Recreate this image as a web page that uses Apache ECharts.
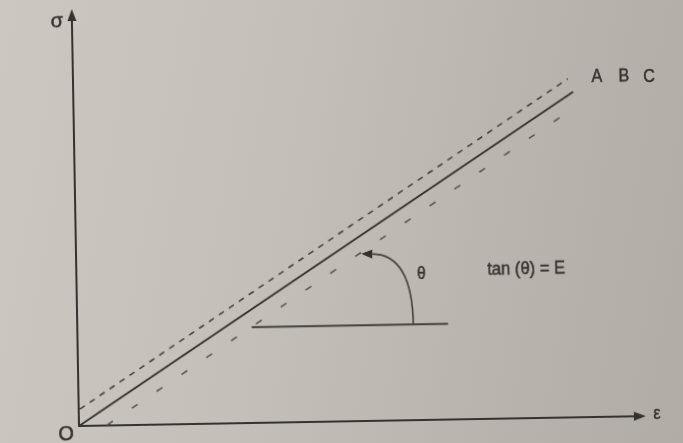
<!DOCTYPE html>
<html>
<head>
<meta charset="utf-8">
<script src="https://cdn.jsdelivr.net/npm/echarts@6/dist/echarts.min.js"></script>
<style>
  html, body { margin: 0; padding: 0; width: 683px; height: 443px; overflow: hidden; }
  body { background: linear-gradient(100deg, #ccc7c0 0%, #c4bfb8 40%, #b8b3ad 75%, #b1aca6 100%); }
  #chart { position: absolute; left: 0; top: 0; width: 683px; height: 443px;
           transform: rotate(-1deg); transform-origin: 79px 426px; }
</style>
</head>
<body>
<div id="chart"></div>
<script>
// Linear-elastic lines: strain (ε) and stress (σ) at the two ends of each line
const lineNames = ['A', 'B', 'C'];
const strainA = [0.02, 8.82];
const stressA = [0.41, 8.24];
const strainB = [0.00, 8.91];
const stressB = [0.00, 7.92];
const strainC = [0.50, 8.81];
const stressC = [0.01, 7.43];
// horizontal reference from which the slope angle θ is measured
const refStrain = [3.11, 6.61];
const refStress = [2.33, 2.33];
// curved arrow marking θ (cubic bezier: start, two controls, end)
const arcStrain = [5.99, 5.99, 5.81, 5.28];
const arcStress = [2.33, 3.31, 4.04, 4.06];

const ink = '#35322f';
const font = '"Liberation Sans Narrow","Arial Narrow","Liberation Sans",sans-serif';

const pairs = (xs, ys) => xs.map((x, i) => [x, ys[i]]);

const chart = echarts.init(document.getElementById('chart'), null, { renderer: 'canvas' });

const axisCommon = {
  type: 'value', min: 0, max: 10,
  splitLine: { show: false }, axisTick: { show: false }, axisLabel: { show: false },
  axisLine: { show: true, onZero: false, symbol: ['none', 'triangle'], symbolSize: [9, 12],
              lineStyle: { color: ink, width: 2 } }
};

chart.setOption({
  animation: false,
  backgroundColor: 'transparent',
  grid: { left: 79, top: 15, right: 43, bottom: 17 },
  xAxis: axisCommon,
  yAxis: axisCommon,
  series: [
    { name: lineNames[0], type: 'line', symbol: 'none', data: pairs(strainA, stressA),
      lineStyle: { color: '#46433f', width: 1.6, type: [6, 6] } },
    { name: lineNames[1], type: 'line', symbol: 'none', data: pairs(strainB, stressB),
      lineStyle: { color: ink, width: 2 } },
    { name: lineNames[2], type: 'line', symbol: 'none', data: pairs(strainC, stressC),
      lineStyle: { color: '#5a5652', width: 1.6, type: [7, 23] } },
    { name: 'ref', type: 'line', symbol: 'none', data: pairs(refStrain, refStress),
      lineStyle: { color: '#45423e', width: 2 } }
  ]
});

// pixel positions of the θ arrow, taken from its data coordinates
const px = arcStrain.map((x, i) => chart.convertToPixel({ gridIndex: 0 }, [x, arcStress[i]]));
const end = px[3], ctl = px[2];
const dx = end[0] - ctl[0], dy = end[1] - ctl[1];
const len = Math.hypot(dx, dy), ux = dx / len, uy = dy / len;
const headL = 11, headW = 4.5;
const tip = [end[0] + ux * headL, end[1] + uy * headL];
const b1 = [end[0] - uy * headW, end[1] + ux * headW];
const b2 = [end[0] + uy * headW, end[1] - ux * headW];

// condensed-looking letters: horizontally squeezed, lightly stroked text
const txt = (text, x, y, size, sx, align) => ({
  type: 'text', x: x, y: y, scaleX: sx || 1,
  style: { text: text, fill: ink, stroke: ink, lineWidth: 0.5,
           font: size + 'px ' + font, textAlign: align || 'center', textVerticalAlign: 'middle' }
});

chart.setOption({
  graphic: [
    { type: 'bezierCurve',
      shape: { x1: px[0][0], y1: px[0][1], cpx1: px[1][0], cpy1: px[1][1],
               cpx2: px[2][0], cpy2: px[2][1], x2: end[0], y2: end[1] },
      style: { stroke: '#45423e', lineWidth: 1.6, fill: null } },
    { type: 'polygon', shape: { points: [tip, b1, b2] }, style: { fill: ink } },
    txt('A', 603, 86, 19, 0.85),
    txt('B', 630, 86, 19, 0.85),
    txt('C', 655, 87, 19, 0.85),
    txt('σ', 64, 21, 20),
    txt('ε', 657, 424, 18, 0.9),
    txt('O', 66, 434, 20),
    txt('θ', 424, 280, 18, 0.85),
    txt('tan (θ) = E', 490, 277, 18, 0.92, 'left')
  ]
});
</script>
</body>
</html>
